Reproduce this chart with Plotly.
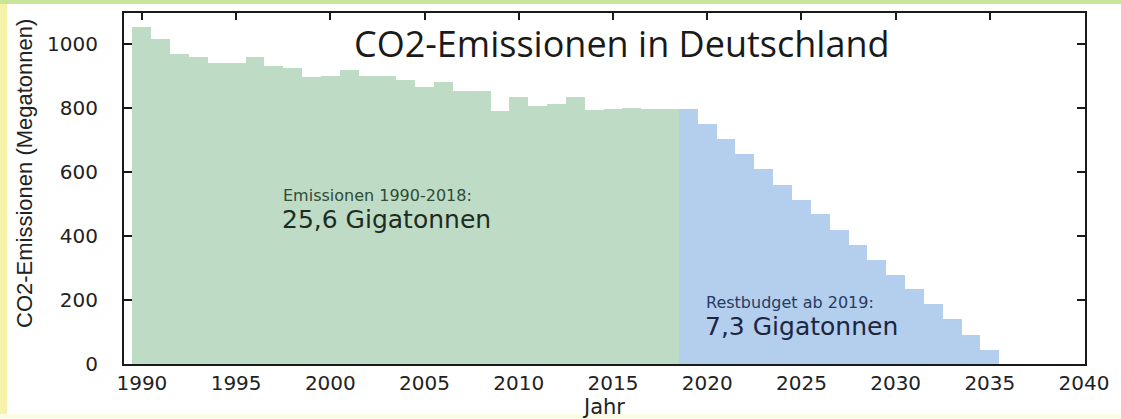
import plotly.graph_objects as go

# ---- data ----
hist_years = list(range(1990, 2019))
hist_values = [1054, 1016, 968, 958, 942, 942, 960, 932, 924, 896,
               900, 918, 900, 900, 888, 867, 880, 854, 854, 792,
               833, 806, 814, 833, 794, 796, 800, 796, 796]
budget_years = list(range(2019, 2036))
budget_values = [796, 750, 703, 656, 608, 560, 514, 470, 420, 372,
                 325, 278, 233, 186, 140, 92, 45]

x_ticks = [1990, 1995, 2000, 2005, 2010, 2015, 2020, 2025, 2030, 2035, 2040]
y_ticks = [0, 200, 400, 600, 800, 1000]

title_text = "CO2-Emissionen in Deutschland"
x_title = "Jahr"
y_title = "CO2-Emissionen (Megatonnen)"
hist_label_small = "Emissionen 1990-2018:"
hist_label_big = "25,6 Gigatonnen"
budget_label_small = "Restbudget ab 2019:"
budget_label_big = "7,3 Gigatonnen"

# ---- layout constants ----
W, H = 1121, 419
ML, MR, MT, MB = 124, 36, 13, 55
PW, PH = W - ML - MR, H - MT - MB

GREEN = "rgb(189,219,197)"
BLUE = "rgb(180,206,238)"
AXIS = "#1a1a1a"
TICKFONT = dict(family="DejaVu Sans", size=20, color="#222222")
LABELFONT = "DejaVu Sans"

fig = go.Figure()
fig.add_trace(go.Bar(x=hist_years, y=hist_values, marker=dict(color=GREEN, line=dict(width=0)),
                     name="1990-2018", showlegend=False))
fig.add_trace(go.Bar(x=budget_years, y=budget_values, marker=dict(color=BLUE, line=dict(width=0)),
                     name="Restbudget", showlegend=False))

def px_x(px):
    return (px - ML) / PW

def px_y(py):
    return (H - MB - py) / PH

annots = [
    dict(text=title_text, x=px_x(621), y=px_y(43), xanchor="center", yanchor="middle",
         font=dict(family="Open Sans", size=36, color="#1a1a1a")),
    dict(text=hist_label_small, x=px_x(281), y=px_y(195), xanchor="left", yanchor="middle",
         font=dict(family=LABELFONT, size=16, color="#2f4c35")),
    dict(text=hist_label_big, x=px_x(280), y=px_y(219), xanchor="left", yanchor="middle",
         font=dict(family=LABELFONT, size=25, color="#1f2b22")),
    dict(text=budget_label_small, x=px_x(704), y=px_y(302), xanchor="left", yanchor="middle",
         font=dict(family=LABELFONT, size=16, color="#283b60")),
    dict(text=budget_label_big, x=px_x(703), y=px_y(326), xanchor="left", yanchor="middle",
         font=dict(family=LABELFONT, size=25, color="#1d2640")),
    # y-axis title
    dict(text=y_title, x=px_x(24), y=px_y(174), xanchor="center", yanchor="middle",
         textangle=-90, font=dict(family="Liberation Sans", size=22, color="#222222")),
]
for a in annots:
    a.update(xref="paper", yref="paper", showarrow=False)

shapes = [
    # yellow strip on the left edge
    dict(type="rect", xref="paper", yref="paper", x0=px_x(0), x1=px_x(7), y0=px_y(H), y1=px_y(0),
         fillcolor="rgb(247,242,170)", line=dict(width=0), layer="above"),
    # green strip on the top edge
    dict(type="rect", xref="paper", yref="paper", x0=px_x(0), x1=px_x(W), y0=px_y(4), y1=px_y(0),
         fillcolor="rgb(200,229,152)", line=dict(width=0), layer="above"),
    # faint strip on the bottom edge
    dict(type="rect", xref="paper", yref="paper", x0=px_x(0), x1=px_x(W), y0=px_y(H), y1=px_y(414),
         fillcolor="rgb(252,252,230)", line=dict(width=0), layer="above"),
]

fig.update_layout(
    width=W, height=H,
    margin=dict(l=ML, r=MR, t=MT, b=MB, autoexpand=False),
    paper_bgcolor="white", plot_bgcolor="white",
    barmode="overlay", bargap=0,
    annotations=annots, shapes=shapes,
    xaxis=dict(range=[1989.05, 2040.05], tickmode="array", tickvals=x_ticks,
               ticktext=[str(v) for v in x_ticks],
               ticks="inside", ticklen=7, tickwidth=1.5, tickcolor=AXIS,
               showline=True, linecolor=AXIS, linewidth=2, mirror="ticks",
               showgrid=False, zeroline=False, layer="below traces",
               tickfont=TICKFONT,
               title=dict(text=x_title, font=dict(family="DejaVu Sans", size=21, color="#222222"),
                          standoff=2)),
    yaxis=dict(range=[0, 1097], tickmode="array", tickvals=y_ticks,
               ticktext=[str(v) for v in y_ticks],
               ticks="inside", ticklen=8, tickwidth=1.5, tickcolor=AXIS,
               showline=True, linecolor=AXIS, linewidth=2, mirror="ticks",
               showgrid=False, zeroline=False, layer="below traces",
               tickfont=TICKFONT, ticklabelstandoff=20),
)

fig.write_html("out.html", config={"displayModeBar": False},
               post_script="document.body.style.margin='0';")
